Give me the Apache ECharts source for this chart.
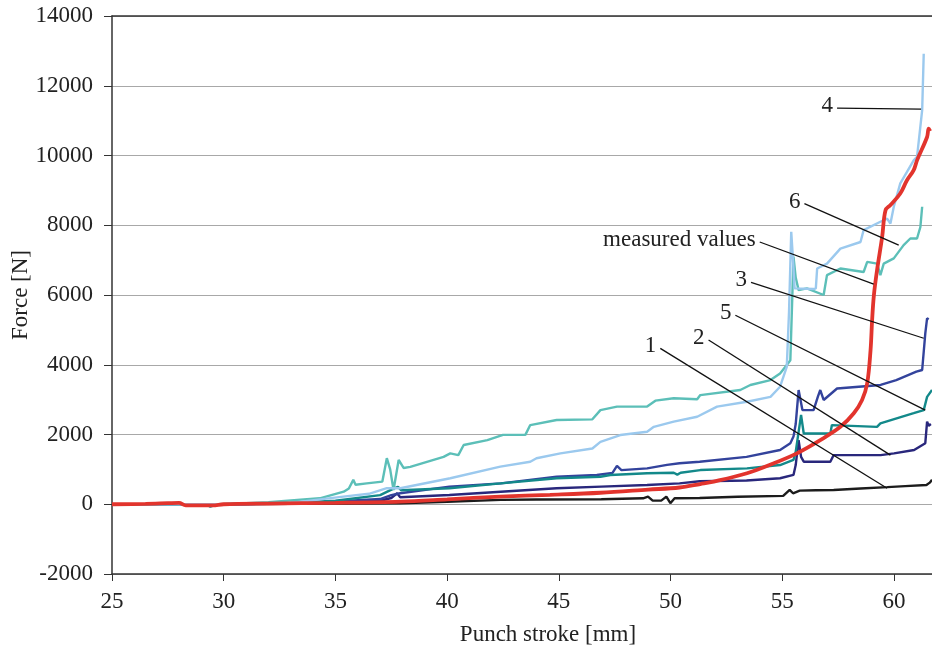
<!DOCTYPE html>
<html>
<head>
<meta charset="utf-8">
<script src="https://cdn.jsdelivr.net/npm/echarts@6/dist/echarts.min.js"></script>
<style>
html, body { margin: 0; padding: 0; background: #fff; }
#forceChart { width: 932px; height: 650px; }
</style>
</head>
<body>
<div id="forceChart"></div>
<script>
// punch stroke [mm], force [N] pairs
var curve1 = [[25,0],[30,0],[33,10],[36,20],[37.9,30],[40,70],[42.4,125],[44,135],[46.9,145],[48.77,170],[48.99,220],[49.2,105],[49.58,105],[49.81,220],[49.99,30],[50.18,170],[51.3,180],[53,215],[55.04,240],[55.33,410],[55.48,315],[55.78,390],[56.5,400],[57.3,410],[58.5,450],[59.7,490],[60.5,520],[61.45,550],[61.6,620],[61.7,700]];
var curve2 = [[25,0],[30,0],[33,20],[35,50],[37,100],[37.5,180],[37.76,315],[37.9,200],[40.1,265],[42.4,360],[44.9,460],[46.9,505],[48.95,550],[50.4,600],[51.3,660],[53.4,680],[54.9,745],[55.5,840],[55.6,1125],[55.73,1840],[55.84,1360],[55.96,1220],[57.15,1220],[57.3,1410],[59.4,1410],[60.0,1460],[60.9,1555],[61.4,1750],[61.48,2370],[61.55,2250],[61.65,2300]];
var curve3 = [[25,0],[30,0],[33,30],[35,80],[37,150],[37.5,260],[37.9,315],[40.1,505],[42.4,600],[43.7,700],[44.9,790],[46.7,840],[47.4,900],[47.6,1100],[47.8,980],[48.95,1030],[49.84,1130],[50.4,1175],[51.3,1220],[53.4,1360],[54.9,1555],[55.36,1750],[55.5,1940],[55.6,2300],[55.73,3275],[55.9,2700],[56.4,2700],[56.6,3100],[56.7,3275],[56.85,2990],[57.45,3320],[59.4,3420],[60.1,3560],[61.0,3800],[61.26,3850],[61.4,4900],[61.48,5330],[61.55,5300]];
var curve4 = [[25,0],[30,0],[33,40],[35.35,220],[36.5,300],[37.3,460],[37.9,460],[40.14,745],[42.38,1080],[43.72,1220],[44.0,1320],[45.07,1460],[46.5,1600],[46.86,1790],[47.75,1985],[48.95,2080],[49.25,2220],[50.14,2370],[51.19,2510],[52.08,2800],[53.42,2940],[54.47,3080],[54.9,3370],[55.2,3940],[55.3,5500],[55.4,7810],[55.48,7000],[55.55,6190],[56.4,6170],[56.5,6190],[56.56,6760],[57.0,6900],[57.6,7330],[58.5,7520],[58.64,7860],[59.39,8100],[59.69,8190],[59.84,8050],[59.99,8530],[60.28,9200],[60.88,9860],[61.03,9960],[61.26,11300],[61.33,12920]];
var curve5 = [[25,0],[29.2,0],[29.4,-70],[29.7,0],[33,40],[35,100],[37,260],[37.6,450],[37.8,500],[37.95,400],[40.1,460],[42.4,600],[44.9,745],[46.86,790],[47.3,840],[48.95,890],[50.14,905],[50.3,850],[50.45,905],[51.33,980],[53.42,1030],[54.9,1125],[55.5,1270],[55.6,1500],[55.84,2560],[55.96,2030],[57.15,2030],[57.22,2270],[59.24,2220],[59.39,2320],[60.88,2610],[61.33,2700],[61.48,3080],[61.7,3275]];
var curve6 = [[25,0],[30,0],[32,60],[34.3,170],[35.37,360],[35.6,450],[35.8,700],[35.9,560],[36.4,600],[37.1,650],[37.3,1320],[37.45,1000],[37.6,410],[37.83,1270],[38.05,1040],[38.35,1070],[39.84,1360],[40.14,1460],[40.5,1410],[40.74,1700],[41.8,1840],[42.5,1990],[43.5,1990],[43.72,2270],[44.9,2415],[46.5,2435],[46.86,2700],[47.6,2800],[48.95,2800],[49.32,2970],[50.14,3040],[51.19,3010],[51.33,3130],[53.12,3275],[53.57,3420],[54.47,3560],[54.9,3750],[55.2,3990],[55.36,4130],[55.45,6000],[55.5,7100],[55.6,6500],[55.73,6140],[56.1,6190],[56.85,6000],[57.0,6570],[57.6,6760],[58.64,6660],[58.8,6950],[59.24,6900],[59.39,6570],[59.54,6900],[59.99,7050],[60.43,7430],[60.73,7620],[61.03,7620],[61.18,7950],[61.26,8530]];
var measured = [[25,0],[26.5,10],[27.5,30],[28.0,40],[28.3,-30],[29.5,-30],[30,0],[32,20],[35,40],[37.9,75],[40,140],[42.38,220],[44.6,270],[46.86,330],[49,420],[50.4,480],[51.33,580],[51.93,650],[53.42,890],[54.6,1170],[55.65,1460],[56.7,1840],[57.6,2220],[58.2,2610],[58.57,2990],[58.8,3470],[58.95,4420],[59.02,5280],[59.1,6000],[59.24,6710],[59.47,7670],[59.62,8430],[59.84,8580],[60.28,8910],[60.58,9290],[60.88,9580],[61.03,9860],[61.48,10530],[61.55,10770],[61.62,10700]];

// callout labels with leader lines (data coords)
var calloutText = ['4', '6', 'measured values', '3', '5', '2', '1'];
var calloutFrom = [[57.45,11360],[55.99,8620],[53.99,7520],[53.6,6360],[52.9,5420],[51.7,4710],[49.54,4470]];
var calloutTo = [[61.21,11330],[60.21,7430],[59.09,6310],[61.33,4760],[61.4,2700],[59.84,1410],[59.69,460]];

var serifFont = '"Liberation Serif", "DejaVu Serif", serif';

function makeLine(name, data, color, width, z, smooth) {
    return {
        name: name,
        type: 'line',
        data: data,
        symbol: 'none',
        smooth: smooth || false,
        z: z,
        lineStyle: { color: color, width: width },
        animation: false
    };
}

var chart = echarts.init(document.getElementById('forceChart'));
var option = {
    backgroundColor: '#fff',
    animation: false,
    grid: { left: 112, right: 0, top: 16, bottom: 76, outerBoundsMode: 'none' },
    xAxis: [{
        type: 'value',
        min: 25, max: 61.7, interval: 5,
        name: 'Punch stroke [mm]',
        nameLocation: 'middle',
        nameGap: 49,
        nameMoveOverlap: false,
        nameTextStyle: { fontFamily: serifFont, fontSize: 23, color: '#222', padding: [0, 0, 0, 52] },
        axisLine: { onZero: false, lineStyle: { color: '#333', width: 1.5 } },
        axisTick: { length: 7, lineStyle: { color: '#333' } },
        axisLabel: { fontFamily: serifFont, fontSize: 23, color: '#222', margin: 16, showMaxLabel: false },
        splitLine: { show: false }
    }, {
        type: 'value',
        position: 'top',
        min: 25, max: 61.7,
        axisLine: { onZero: false, lineStyle: { color: '#333', width: 1.5 } },
        axisTick: { show: false },
        axisLabel: { show: false },
        splitLine: { show: false }
    }],
    yAxis: {
        type: 'value',
        min: -2000, max: 14000, interval: 2000,
        name: 'Force [N]',
        nameLocation: 'middle',
        nameGap: 80,
        nameMoveOverlap: false,
        nameTextStyle: { fontFamily: serifFont, fontSize: 23, color: '#222' },
        axisLine: { show: true, onZero: false, lineStyle: { color: '#333', width: 1.5 } },
        axisTick: { show: true, length: 8, lineStyle: { color: '#333' } },
        axisLabel: {
            fontFamily: serifFont, fontSize: 23, color: '#222', margin: 19,
            formatter: function (v) { return String(v); }
        },
        splitLine: { show: true, lineStyle: { color: '#a8a8a8', width: 1 } }
    },
    series: [
        makeLine('1', curve1, '#1c1c1c', 2.4, 3),
        makeLine('2', curve2, '#29277c', 2.4, 3),
        makeLine('3', curve3, '#33439c', 2.4, 3),
        makeLine('5', curve5, '#13898a', 2.4, 3),
        makeLine('6', curve6, '#5cbfb8', 2.4, 3),
        makeLine('4', curve4, '#9bc9ee', 2.4, 4),
        makeLine('measured values', measured, '#e2342d', 3.8, 5, 0.35)
    ]
};
chart.setOption(option);

// leader lines and labels
var graphics = [];
for (var i = 0; i < calloutText.length; i++) {
    var p1 = chart.convertToPixel({ gridIndex: 0 }, calloutFrom[i]);
    var p2 = chart.convertToPixel({ gridIndex: 0 }, calloutTo[i]);
    graphics.push({
        type: 'line',
        z: 10,
        shape: { x1: p1[0], y1: p1[1], x2: p2[0], y2: p2[1] },
        style: { stroke: '#111', lineWidth: 1.3 }
    });
    graphics.push({
        type: 'text',
        z: 10,
        x: p1[0] - 4,
        y: p1[1] - 2,
        style: {
            text: calloutText[i],
            font: '23px ' + serifFont,
            fill: '#222',
            align: 'right',
            verticalAlign: 'middle'
        }
    });
}
chart.setOption({ graphic: graphics });
</script>
</body>
</html>
